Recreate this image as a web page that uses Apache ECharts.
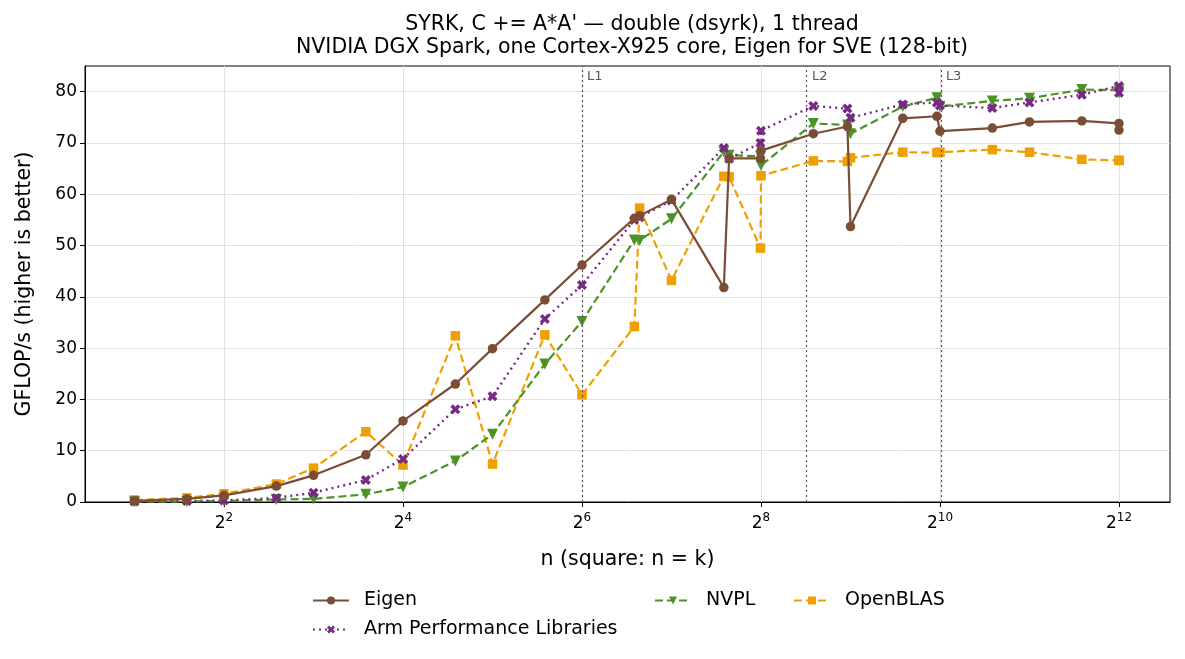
<!DOCTYPE html>
<html>
<head>
<meta charset="utf-8">
<script src="https://cdn.jsdelivr.net/npm/echarts@6/dist/echarts.min.js"></script>
<style>
  html, body { margin: 0; padding: 0; background: #fff; }
  #main { width: 1185px; height: 659px; }
</style>
</head>
<body>
<div id="main"></div>
<script>
// matrix sizes (square, n = k)
var sizes = [2, 3, 4, 6, 8, 12, 16, 24, 32, 48, 64, 96, 100, 128, 192, 200, 255, 256,
             384, 500, 512, 768, 1000, 1024, 1536, 2048, 3072, 4095, 4096];

// GFLOP/s per library
var eigen = [0.2, 0.6, 1.3, 3.1, 5.2, 9.2, 15.8, 23.0, 29.9, 39.4, 46.2, 55.3, 55.8, 59.0,
             41.8, 67.0, 67.0, 68.5, 71.8, 73.2, 53.7, 74.8, 75.2, 72.3, 72.9, 74.1, 74.3, 73.8, 72.5];
var armpl = [0.1, 0.2, 0.3, 0.8, 1.8, 4.3, 8.4, 18.1, 20.6, 35.7, 42.3, 55.0, 55.5, 58.8,
             69.0, 66.9, 70.0, 72.4, 77.2, 76.7, 74.9, 77.5, 77.9, 77.3, 76.8, 77.9, 79.4, 81.1, 79.8];
var nvpl = [0.05, 0.1, 0.2, 0.5, 0.6, 1.5, 2.9, 8.0, 13.2, 26.9, 35.2, 51.1, 51.0, 55.2,
            68.3, 67.6, 67.4, 65.6, 73.8, 73.5, 71.8, 77.1, 78.8, 77.1, 78.2, 78.7, 80.4, 80.3, 79.8];
var openblas = [0.4, 0.8, 1.6, 3.5, 6.6, 13.7, 7.2, 32.4, 7.4, 32.6, 20.9, 34.2, 57.3, 43.2,
                63.5, 63.4, 49.5, 63.6, 66.5, 66.4, 67.1, 68.2, 68.1, 68.2, 68.7, 68.2, 66.8, 66.6, 66.6];

// cache boundaries (log2 n) and their names
var cacheNames = ['L1', 'L2', 'L3'];
var cacheLog2 = [6.0, 8.514, 10.01];

var xTicks = [2, 4, 6, 8, 10, 12];
var yTicks = [0, 10, 20, 30, 40, 50, 60, 70, 80];

function pts(vals) {
  return sizes.map(function (n, i) { return [Math.log2(n), vals[i]]; });
}

var xMark = 'path://M2.5,0 L5,2.5 L7.5,0 L10,2.5 L7.5,5 L10,7.5 L7.5,10 L5,7.5 L2.5,10 L0,7.5 L2.5,5 L0,2.5 Z';
var font = 'DejaVu Sans';

var chart = echarts.init(document.getElementById('main'), null, { renderer: 'canvas' });

chart.setOption({
  animation: false,
  textStyle: { fontFamily: font },
  title: {
    text: "SYRK, C += A*A' \u2014 double (dsyrk), 1 thread\nNVIDIA DGX Spark, one Cortex-X925 core, Eigen for SVE (128-bit)",
    left: 627, top: 8, textAlign: 'center',
    textStyle: { fontFamily: font, fontSize: 20.5, fontWeight: 'normal', color: '#000', lineHeight: 23 }
  },
  grid: { left: 85, right: 15, top: 66, bottom: 157, show: true, borderColor: '#000', borderWidth: 1 },
  legend: [
    { data: ['Eigen', 'Arm Performance Libraries'], orient: 'vertical', left: 307, top: 586, itemGap: 10 },
    { data: ['NVPL'], orient: 'vertical', left: 649, top: 586 },
    { data: ['OpenBLAS'], orient: 'vertical', left: 788, top: 586 }
  ].map(function (l) {
    l.itemWidth = 36; l.itemHeight = 10; l.selectedMode = false;
    l.textStyle = { fontFamily: font, fontSize: 19, color: '#000', padding: [0, 0, 0, 10] };
    return l;
  }),
  xAxis: {
    type: 'value', min: 0.447, max: 12.57,
    name: 'n (square: n = k)', nameLocation: 'middle', nameGap: 47,
    nameTextStyle: { fontFamily: font, fontSize: 20.5, color: '#000' },
    axisLine: { onZero: false, lineStyle: { color: '#000', width: 1 } },
    axisTick: { customValues: xTicks, length: 5, lineStyle: { color: '#000' } },
    axisLabel: {
      customValues: xTicks, margin: 10, color: '#000',
      formatter: function (v) { return '{b|2}{s|' + v + '}'; },
      rich: {
        b: { fontFamily: font, fontSize: 17, color: '#000' },
        s: { fontFamily: font, fontSize: 12, color: '#000', padding: [0, 0, 11, 0] }
      }
    },
    splitLine: { show: true, lineStyle: { color: '#e2e2e2', width: 1 } }
  },
  yAxis: {
    type: 'value', min: 0, max: 85, interval: 10,
    name: 'GFLOP/s (higher is better)', nameLocation: 'middle', nameGap: 50,
    nameTextStyle: { fontFamily: font, fontSize: 20.5, color: '#000' },
    axisLine: { show: true, lineStyle: { color: '#000', width: 1 } },
    axisTick: { show: true, customValues: yTicks, length: 5, lineStyle: { color: '#000' } },
    axisLabel: { customValues: yTicks, fontFamily: font, fontSize: 17, color: '#000', margin: 8 },
    splitLine: { show: true, lineStyle: { color: '#e2e2e2', width: 1 } }
  },
  series: [
    {
      name: 'Eigen', type: 'line', data: pts(eigen), z: 5,
      symbol: 'circle', symbolSize: 9.5, color: '#7a4e36',
      lineStyle: { width: 2.2, type: 'solid' },
      markLine: {
        silent: true, symbol: 'none',
        lineStyle: { color: '#555', width: 1.2, type: [2, 3] },
        label: { show: false },
        data: cacheLog2.map(function (v) { return { xAxis: v }; })
      }
    },
    {
      name: 'Arm Performance Libraries', type: 'line', data: pts(armpl), z: 4,
      symbol: xMark, symbolSize: 10, color: '#762a83',
      lineStyle: { width: 2.4, type: [2, 4] }
    },
    {
      name: 'NVPL', type: 'line', data: pts(nvpl), z: 3,
      symbol: 'triangle', symbolRotate: 180, symbolSize: 11, color: '#4b9325',
      lineStyle: { width: 2.2, type: [8, 4] }
    },
    {
      name: 'OpenBLAS', type: 'line', data: pts(openblas), z: 2,
      symbol: 'rect', symbolSize: 9.5, color: '#efa000',
      lineStyle: { width: 2.2, type: [8, 4] }
    }
  ]
});

// cache labels next to the dotted lines
chart.setOption({
  graphic: cacheLog2.map(function (v, i) {
    var p = chart.convertToPixel({ gridIndex: 0 }, [v, 83]);
    return {
      type: 'text', x: p[0] + 5, y: 70,
      style: { text: cacheNames[i], fontFamily: font, fontSize: 13, fill: '#555' }
    };
  })
});
</script>
</body>
</html>
